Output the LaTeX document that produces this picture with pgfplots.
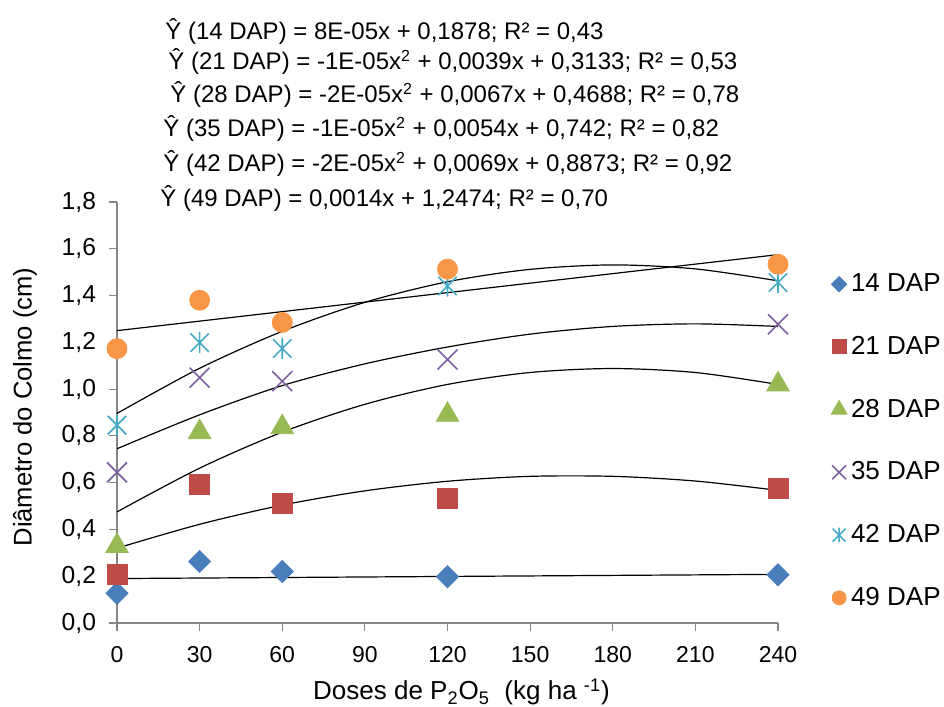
\documentclass[border=0pt]{standalone}
\usepackage{pgfplots}
\pgfplotsset{compat=1.18}
\usepackage{fontspec}
\setmainfont{Liberation Sans}
\definecolor{c14}{HTML}{4A7EBB}
\definecolor{c21}{HTML}{BE4B48}
\definecolor{c28}{HTML}{98B954}
\definecolor{c35}{HTML}{7D60A0}
\definecolor{c42}{HTML}{46AAC5}
\definecolor{c49}{HTML}{F79646}
\definecolor{axgray}{RGB}{134,134,134}
\pgfdeclareplotmark{exx}{%
  \pgfpathmoveto{\pgfqpoint{-\pgfplotmarksize}{-\pgfplotmarksize}}%
  \pgfpathlineto{\pgfqpoint{\pgfplotmarksize}{\pgfplotmarksize}}%
  \pgfpathmoveto{\pgfqpoint{-\pgfplotmarksize}{\pgfplotmarksize}}%
  \pgfpathlineto{\pgfqpoint{\pgfplotmarksize}{-\pgfplotmarksize}}%
  \pgfusepathqstroke}
\pgfdeclareplotmark{xstar}{%
  \pgfpathmoveto{\pgfqpoint{-\pgfplotmarksize}{-\pgfplotmarksize}}%
  \pgfpathlineto{\pgfqpoint{\pgfplotmarksize}{\pgfplotmarksize}}%
  \pgfpathmoveto{\pgfqpoint{-\pgfplotmarksize}{\pgfplotmarksize}}%
  \pgfpathlineto{\pgfqpoint{\pgfplotmarksize}{-\pgfplotmarksize}}%
  \pgfpathmoveto{\pgfqpoint{0pt}{-1.15\pgfplotmarksize}}%
  \pgfpathlineto{\pgfqpoint{0pt}{1.15\pgfplotmarksize}}%
  \pgfusepathqstroke}
\newcommand{\eqf}{\fontsize{12}{14}\selectfont}
\begin{document}
\begin{tikzpicture}
\path[use as bounding box] (0,0) rectangle (472pt,353.5pt);
\begin{axis}[
  at={(58.5pt,42pt)}, anchor=south west,
  scale only axis, width=330.5pt, height=210.5pt,
  xmin=0, xmax=240, ymin=0, ymax=1.8,
  axis x line*=bottom, axis y line*=left,
  axis line style={axgray, line width=0.6pt},
  xtick={0,30,60,90,120,150,180,210,240},
  ytick={0,0.2,0.4,0.6,0.8,1.0,1.2,1.4,1.6,1.8},
  tick align=outside, major tick length=4pt,
  tick style={axgray, line width=0.6pt},
  tick label style={font=\fontsize{11.5}{13}\selectfont},
  xticklabel style={yshift=-4pt},
  scaled ticks=false,
  /pgf/number format/assume math mode=true,
  /pgf/number format/use comma,
  yticklabel style={xshift=-3pt, font=\fontsize{12.3}{14}\selectfont, /pgf/number format/fixed, /pgf/number format/fixed zerofill, /pgf/number format/precision=1},
  xlabel={Doses de P\textsubscript{2}O\textsubscript{5}\ \ (kg ha \textsuperscript{-1})},
  xlabel style={font=\fontsize{13}{15}\selectfont, at={(rel axis cs:0.5,0)}, anchor=base, xshift=7pt, yshift=-38.5pt},
  ylabel={Diâmetro do Colmo (cm)},
  ylabel style={font=\fontsize{12.8}{15}\selectfont, at={(rel axis cs:0,0.5)}, anchor=center, yshift=46pt, xshift=2.75pt},
  clip=false,
  legend style={draw=none, fill=none, at={(rel axis cs:1.08,0.84)}, anchor=north west,
    font=\fontsize{13}{15}\selectfont, row sep=16.8pt, inner sep=0pt},
  legend cell align=left,
  legend image post style={scale=0.7},
]
\addplot[only marks, mark=square*, mark size=3.9pt, mark options={rotate=45, fill=c14, draw=c14}, color=c14]
  coordinates {(0,0.127) (30,0.263) (60,0.220) (120,0.198) (240,0.206)};
\addlegendentry{14 DAP}
\addplot[only marks, mark=square*, mark size=5pt, mark options={fill=c21, draw=c21}, color=c21]
  coordinates {(0,0.206) (30,0.591) (60,0.510) (120,0.534) (240,0.576)};
\addlegendentry{21 DAP}
\addplot[only marks, mark=triangle*, mark size=6.5pt, mark options={fill=c28, draw=c28}, color=c28]
  coordinates {(0,0.329) (30,0.816) (60,0.837) (120,0.890) (240,1.020)};
\addlegendentry{28 DAP}
\addplot[only marks, mark=exx, mark size=5pt, mark options={draw=c35, line width=0.8pt}, color=c35]
  coordinates {(0,0.644) (30,1.049) (60,1.034) (120,1.127) (240,1.277)};
\addlegendentry{35 DAP}
\addplot[only marks, mark=xstar, mark size=4.6pt, mark options={draw=c42, line width=0.8pt}, color=c42]
  coordinates {(0,0.846) (30,1.199) (60,1.174) (120,1.441) (240,1.456)};
\addlegendentry{42 DAP}
\addplot[only marks, mark=*, mark size=5pt, mark options={fill=c49, draw=c49}, color=c49]
  coordinates {(0,1.173) (30,1.380) (60,1.285) (120,1.513) (240,1.534)};
\addlegendentry{49 DAP}
% trend lines
\addplot[forget plot, black, line width=0.6pt] coordinates {(0,0.190) (240,0.208)};
\addplot[forget plot, black, line width=0.6pt, smooth] coordinates {(0,0.320) (30,0.422) (60,0.504) (90,0.565) (120,0.606) (150,0.627) (180,0.627) (210,0.607) (240,0.567)};
\addplot[forget plot, black, line width=0.6pt, smooth] coordinates {(0,0.475) (30,0.662) (60,0.816) (90,0.935) (120,1.020) (150,1.071) (180,1.088) (210,1.071) (240,1.020)};
\addplot[forget plot, black, line width=0.6pt, smooth] coordinates {(0,0.745) (30,0.890) (60,1.015) (90,1.108) (120,1.180) (150,1.235) (180,1.268) (210,1.279) (240,1.268)};
\addplot[forget plot, black, line width=0.6pt, smooth] coordinates {(0,0.896) (30,1.089) (60,1.247) (90,1.371) (120,1.459) (150,1.512) (180,1.531) (210,1.514) (240,1.463)};
\addplot[forget plot, black, line width=0.6pt] coordinates {(0,1.250) (240,1.575)};
\end{axis}
\node[anchor=base west, inner sep=0pt, font=\eqf] at (82.5pt,333.5pt) {Ŷ (14 DAP) = 8E-05x + 0,1878; R² = 0,43};
\node[anchor=base west, inner sep=0pt, font=\eqf] at (84pt,318.5pt) {Ŷ (21 DAP) = -1E-05x\textsuperscript{2} + 0,0039x + 0,3133; R² = 0,53};
\node[anchor=base west, inner sep=0pt, font=\eqf] at (85pt,302pt) {Ŷ (28 DAP) = -2E-05x\textsuperscript{2} + 0,0067x + 0,4688; R² = 0,78};
\node[anchor=base west, inner sep=0pt, font=\eqf] at (81.5pt,285pt) {Ŷ (35 DAP) = -1E-05x\textsuperscript{2} + 0,0054x + 0,742; R² = 0,82};
\node[anchor=base west, inner sep=0pt, font=\eqf] at (81.5pt,267.5pt) {Ŷ (42 DAP) = -2E-05x\textsuperscript{2} + 0,0069x + 0,8873; R² = 0,92};
\node[anchor=base west, inner sep=0pt, font=\eqf] at (80pt,250pt) {Ŷ (49 DAP) = 0,0014x + 1,2474; R² = 0,70};
\end{tikzpicture}
\end{document}
